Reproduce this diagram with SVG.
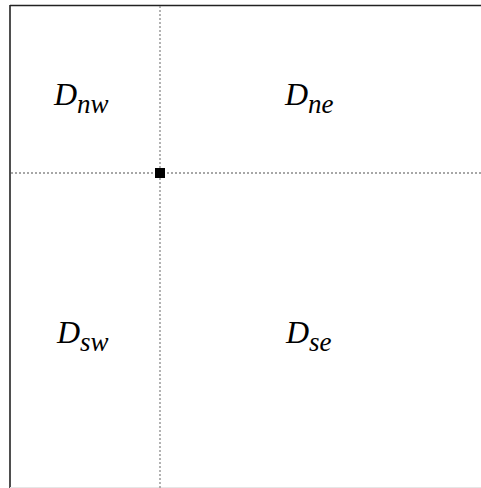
<svg xmlns="http://www.w3.org/2000/svg" width="481" height="488" viewBox="0 0 481 488">
<style>
.frame{stroke:#222;stroke-width:1.6;fill:none}
.dot{stroke:#8a8a8a;stroke-width:1.3;stroke-dasharray:2 2;fill:none}
.lbl{font-family:"Liberation Serif","DejaVu Serif",serif;font-style:italic;fill:#000}
.big{font-size:32px}
.sub{font-size:27px}
</style>
<rect width="481" height="488" fill="#fff"/>
<g id="frame">
<line class="frame" x1="10" y1="5.5" x2="481" y2="5.5"/>
<line class="frame" x1="10" y1="5" x2="10" y2="488"/>
<line x1="10" y1="487.5" x2="481" y2="487.5" stroke="#e6e6e6" stroke-width="1"/>
</g>
<g id="connectors">
<line class="dot" x1="160" y1="6" x2="160" y2="488"/>
<line class="dot" x1="11" y1="173" x2="481" y2="173"/>
</g>
<g id="origin"><rect x="155" y="168" width="10" height="10" fill="#000"/></g>
<g id="nw"><text class="lbl" x="54" y="105"><tspan class="big">D</tspan><tspan class="sub" dy="8">nw</tspan></text></g>
<g id="ne"><text class="lbl" x="285" y="105"><tspan class="big">D</tspan><tspan class="sub" dy="8">ne</tspan></text></g>
<g id="sw"><text class="lbl" x="57" y="343"><tspan class="big">D</tspan><tspan class="sub" dy="8">sw</tspan></text></g>
<g id="se"><text class="lbl" x="286" y="343"><tspan class="big">D</tspan><tspan class="sub" dy="8">se</tspan></text></g>
</svg>
